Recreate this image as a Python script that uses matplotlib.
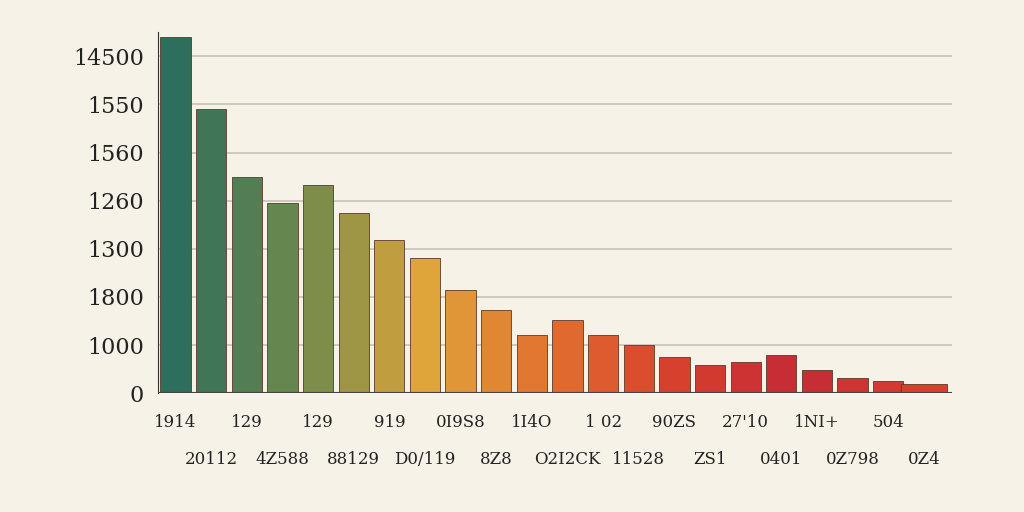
import matplotlib.pyplot as plt
import numpy as np
from matplotlib.colors import LinearSegmentedColormap

categories = ["1914", "20112", "129", "4Z588", "129", "88129", "919", "D0/119",
              "0I9S8", "8Z8", "1I4O", "O2I2CK", "1 02", "11528", "90ZS", "ZS1",
              "27'10", "0401", "1NI+", "0Z798", "504", "0Z4"]
values = [7400, 5900, 4500, 3950, 4330, 3750, 3190, 2800, 2150, 1730, 1200,
          1520, 1200, 1000, 750, 580, 650, 800, 480, 310, 250, 200]
tick_values = [0, 1000, 2000, 3000, 4000, 5000, 6000, 7000]
tick_labels = ["0", "1000", "1800", "1300", "1260", "1560", "1550", "14500"]

bg = "#f7f2e7"
cmap = LinearSegmentedColormap.from_list(
    "warm", ["#2e6e5c", "#6f8a4c", "#e0a53a", "#e0702f", "#d8402e", "#c42a35", "#d8402e"])

fig = plt.figure(figsize=(10.24, 5.12), dpi=100, facecolor=bg)
ax = fig.add_axes([0.154, 0.232, 0.776, 0.705], facecolor=bg)

x = np.arange(len(values))
colors = [cmap(i / (len(values) - 1)) for i in x]
for i in x:
    ax.bar(i, values[i], width=0.85 if i < len(values) - 1 else 1.3, color=colors[i],
           edgecolor="#5a3a2a", linewidth=0.6, zorder=3)

ax.set_ylim(0, 7500)
ax.set_xlim(-0.5, len(values) - 0.2)
ax.set_yticks(tick_values)
ax.set_yticklabels(tick_labels, fontsize=16, family="DejaVu Serif", color="#222222")
ax.yaxis.grid(True, color="#c8c0b4", linewidth=1.2, zorder=0)
ax.set_xticks([])
# staggered category labels in two rows
for i, c in enumerate(categories):
    ax.text(i, -0.08 if i % 2 == 0 else -0.185, c, transform=ax.get_xaxis_transform(),
            ha="center", va="center", fontsize=12, family="DejaVu Serif", color="#222222")
ax.tick_params(length=0, pad=10)
for s in ["top", "right", "bottom"]:
    ax.spines[s].set_visible(False)
ax.spines["left"].set_color("#333333")
ax.axhline(0, color="#444444", linewidth=1.5, zorder=4)

fig.savefig("out.png", dpi=100, facecolor=bg)
